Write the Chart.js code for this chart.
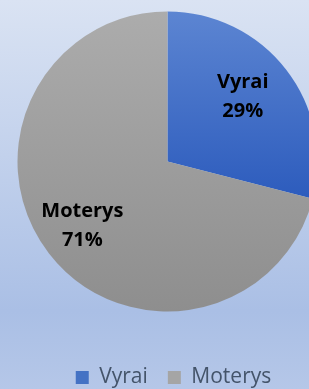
<!DOCTYPE html>
<html>
<head>
<meta charset="utf-8">
<script src="https://cdn.jsdelivr.net/npm/chart.js@4"></script>
<style>
    html, body { margin: 0; padding: 0; width: 309px; height: 389px; overflow: hidden; }
    body {
        position: relative;
        background: linear-gradient(to bottom, #dae3f3 0%, #aabfe5 80%, #b5c7e8 100%);
    }
    #wrap { position: absolute; left: 0; top: -24px; width: 335px; height: 422px; }
</style>
</head>
<body>
<div id="wrap"><canvas id="pie-chart"></canvas></div>
<script>
// Data
const categories = ['Vyrai', 'Moterys'];
const shares = [29, 71];

Chart.defaults.font.family = 'Open Sans';

// gradient per slice: top colour, bottom colour, gradient height as share of diameter
const sliceGradients = [
    ['#5c85d2', '#2d5cbd', 0.62],
    ['#acacac', '#8e8e8e', 1],
];
const legendColors = ['#4472c4', '#a5a5a5'];

function sliceFill(context) {
    const chart = context.chart;
    const area = chart.chartArea;
    const g = sliceGradients[context.dataIndex];
    if (!area) return g[0];
    const cy = (area.top + area.bottom) / 2;
    const top = cy - 150;
    const grad = chart.ctx.createLinearGradient(0, top, 0, top + 300 * g[2]);
    grad.addColorStop(0, g[0]);
    grad.addColorStop(1, g[1]);
    return grad;
}

// Draws category name + percentage inside each slice
const sliceLabels = {
    id: 'sliceLabels',
    afterDatasetsDraw(chart, args, opts) {
        const ctx = chart.ctx;
        const meta = chart.getDatasetMeta(0);
        const total = shares.reduce((a, b) => a + b, 0);
        ctx.save();
        ctx.font = 'bold 20px "Open Sans"';
        ctx.fillStyle = '#000';
        ctx.textAlign = 'center';
        ctx.textBaseline = 'middle';
        meta.data.forEach((arc, i) => {
            const p = arc.getProps(['x', 'y', 'startAngle', 'endAngle', 'outerRadius']);
            const mid = (p.startAngle + p.endAngle) / 2;
            const r = p.outerRadius * opts.radius[i];
            const x = p.x + Math.cos(mid) * r + opts.nudge[i][0];
            const y = p.y + Math.sin(mid) * r + opts.nudge[i][1];
            ctx.fillText(categories[i], x, y - 15);
            ctx.fillText(Math.round(shares[i] / total * 100) + '%', x, y + 14);
        });
        ctx.restore();
    },
};

// Office centres the legend a little right of the pie centre
const nudgeLegend = {
    id: 'nudgeLegend',
    afterLayout(chart) {
        chart.legend.left += 6;
        chart.legend.right += 6;
    },
};

new Chart(document.getElementById('pie-chart'), {
    type: 'pie',
    data: {
        labels: categories,
        datasets: [{
            data: shares,
            backgroundColor: sliceFill,
            borderWidth: 0,
        }],
    },
    options: {
        responsive: true,
        maintainAspectRatio: false,
        animation: false,
        radius: 150,
        layout: { padding: 0 },
        plugins: {
            tooltip: { enabled: false },
            sliceLabels: { radius: [0.66, 0.71], nudge: [[-3, -4], [-1, 0]] },
            legend: {
                position: 'bottom',
                labels: {
                    color: '#44546a',
                    font: { size: 21 },
                    boxWidth: 13,
                    boxHeight: 13,
                    padding: 20,
                    generateLabels(chart) {
                        return categories.map((c, i) => ({
                            text: c,
                            fillStyle: legendColors[i],
                            strokeStyle: legendColors[i],
                            lineWidth: 0,
                            fontColor: '#44546a',
                            hidden: false,
                            index: i,
                        }));
                    },
                },
            },
        },
    },
    plugins: [sliceLabels, nudgeLegend],
});
</script>
</body>
</html>
